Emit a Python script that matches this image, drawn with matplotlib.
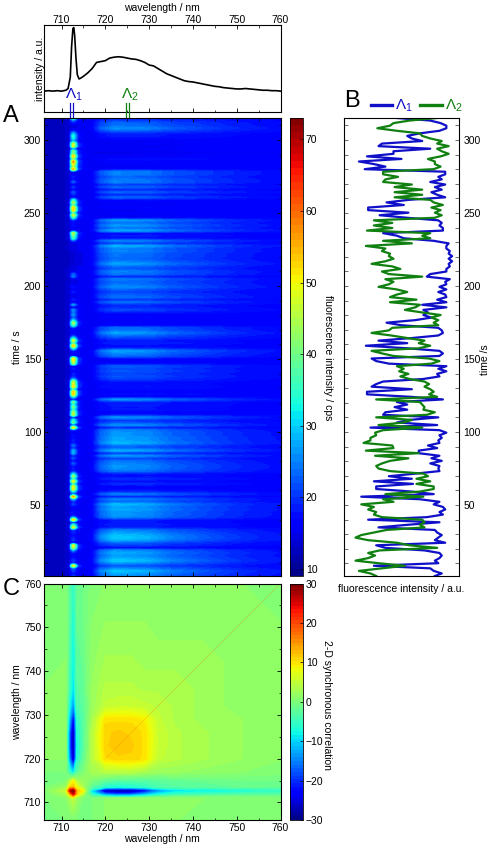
import numpy as np
import matplotlib
matplotlib.use("Agg")
import matplotlib.pyplot as plt
from matplotlib.ticker import MultipleLocator

plt.rcParams['font.family'] = ['Liberation Sans', 'DejaVu Sans']
plt.rcParams['font.size'] = 7.5
plt.rcParams['mathtext.fontset'] = 'custom'
plt.rcParams['mathtext.rm'] = 'Liberation Sans'
plt.rcParams['mathtext.it'] = 'Liberation Sans'
plt.rcParams['axes.linewidth'] = 0.8

# mean spectrum (top panel)
spec_wl = [706, 707, 708, 709, 710, 710.5, 711, 711.5, 712, 712.3, 712.6, 712.8, 713, 713.3, 713.6, 714, 714.4,
           715, 716, 717, 718, 719, 720, 721, 722, 723, 724, 725, 726, 727, 728, 729, 730, 731, 732, 733, 734,
           735, 736, 737, 738, 739, 740, 741, 742, 743, 744, 745, 746, 747, 748, 749, 750, 751, 752, 753, 754,
           755, 756, 757, 758, 759, 760]
spec_int = [24, 24.5, 24, 24.5, 24, 24.5, 25, 27, 40, 75, 96, 97, 88, 62, 43, 38, 39,
            41, 45, 50, 57, 58, 59, 62, 63, 63.5, 63, 62, 61, 60.5, 59, 57, 54, 53, 50, 47, 44,
            42, 40, 38, 36, 35, 34.5, 33.5, 32.5, 31.5, 30.5, 29.5, 29, 28, 27.5, 27, 26.5, 26.5, 27, 26.5, 26,
            25.5, 25, 25, 24.5, 24.5, 24]

# traces of panel B, read from the top (315 s) down to the bottom (1.4 s)
trace_1 = [54, 25, 16, 11, 11, 17, 34, 45, 41, 32, 67, 70, 25, 57, 57, 80, 50, 87, 74, 64, 82, 12, 12, 18, 15, 25,
           12, 21, 15, 24, 19, 12, 44, 63, 48, 79,
           79, 44, 69, 45, 18, 15, 17, 14, 14, 66, 54, 48, 22, 9, 11, 11, 8, 9, 6, 9, 6, 9, 8, 11, 11, 25, 28, 8,
           12, 11, 17, 11, 18, 12, 11, 19,
           11, 32, 11, 31, 27, 31, 24, 38, 63, 50, 18, 15, 14, 18, 41, 70, 45, 81, 45, 17, 14, 17, 76, 72, 61, 11,
           18, 11, 19, 17, 31, 66, 72, 76, 41, 80,
           80, 41, 14, 54, 45, 56, 45, 64, 66, 18, 43, 54, 19, 77, 17, 11, 17, 15, 18, 17, 27, 19, 35, 35, 17, 24,
           15, 25, 17, 18, 17, 38, 61, 41, 74, 40, 72,
           72, 41, 22, 85, 34, 17, 22, 14, 12, 17, 14, 28, 79, 17, 45, 70, 21, 19, 15, 18, 21, 12, 72, 64, 30, 17,
           15, 17, 21, 18, 74, 25, 22, 15, 21]
trace_2 = [19, 43, 57, 60, 71, 54, 34, 32, 25, 15, 19, 9, 19, 15, 9, 16, 27, 21, 21, 16, 22, 66, 66, 53, 64, 66,
           41, 56, 32, 56, 32, 56, 25, 22, 14, 24,
           16, 21, 15, 21, 74, 58, 74, 58, 80, 25, 32, 25, 66, 41, 81, 64, 67, 60, 61, 57, 64, 76, 58, 51, 67, 61,
           32, 64, 57, 61, 70, 54, 45, 54, 60, 37,
           60, 34, 38, 47, 32, 16, 24, 18, 22, 18, 58, 61, 76, 59, 45, 30, 35, 25, 35, 76, 67, 57, 26, 17, 24, 54,
           48, 52, 44, 51, 43, 30, 26, 30, 25, 22,
           26, 19, 72, 34, 32, 30, 31, 21, 28, 72, 41, 48, 70, 32, 66, 73, 72, 77, 77, 83, 58, 57, 81, 35, 73, 44,
           60, 67, 72, 70, 60, 31, 27, 37, 25, 37, 22,
           22, 34, 64, 31, 66, 57, 85, 74, 79, 72, 74, 67, 32, 30, 34, 30, 63, 74, 85, 90, 79, 54, 43, 19, 69,
           79, 73, 79, 90, 70, 47, 67, 87, 77, 72]

# wavelength shapes used for the time-wavelength map in panel A
map_wl = [706, 711, 711.8, 712.2, 712.7, 713.2, 713.8, 715, 717, 719, 722, 726, 730, 735, 740, 745, 750, 755, 760]
map_base = [13, 13, 13, 14, 14, 14, 15, 15, 15, 15, 15, 15, 15.5, 15.5, 16, 16, 16, 16, 16]
line_shape = [0, 0, 0.06, 0.6, 1, 0.65, 0.15, 0.04, 0, 0, 0, 0, 0, 0, 0, 0, 0, 0, 0]
broad_shape = [0, 0, 0, 0, 0, 0, 0, 0, 0.12, 0.7, 1, 0.95, 0.85, 0.65, 0.5, 0.38, 0.28, 0.2, 0.15]

# 2-D synchronous correlation, symmetric table on corr_wl nodes
corr_wl = [706, 711, 712, 712.7, 713.5, 715, 717, 720, 723, 726, 729, 732, 736, 742, 750, 760]
corr = [
    [0, 0, 0, 0, 0, 0, 0, 1, 1, 1, 1, 1, 1, .5, .5, 0],
    [0, 1, 3, 5, 2, 0, 0, 1, 1, 1, 1, 1, 1, 1, .5, 0],
    [0, 3, 15, 26, 12, 4, -7, -17, -20, -19, -14, -9, -6, -5, -4, -3],
    [0, 5, 26, 32, 12, 8, -10, -29, -32, -30, -24, -15, -10, -9, -8, -6],
    [0, 2, 12, 12, 8, 3, -3, -7, -8, -7, -6, -4, -3, -3, -2, -2],
    [0, 0, 4, 8, 3, 2, 0, -2, -3, -3, -3, -2.5, -2, -1.5, -1, -1],
    [0, 0, -7, -10, -3, 0, 3, 4, 4, 4, 3, 2, 2, 1.5, 1, .5],
    [1, 1, -17, -29, -7, -2, 4, 10, 11, 11, 10, 5, 4, 3, 2, 1],
    [1, 1, -20, -32, -8, -3, 4, 11, 12, 11.5, 10, 5.5, 4, 3, 2, 1],
    [1, 1, -19, -30, -7, -3, 4, 11, 11.5, 11, 10, 5.5, 4, 3, 2, 1],
    [1, 1, -14, -24, -6, -3, 3, 10, 10, 10, 9, 5, 3.5, 2.5, 2, 1],
    [1, 1, -9, -15, -4, -2.5, 2, 5, 5.5, 5.5, 5, 4.5, 3.5, 2.5, 1.5, 1],
    [1, 1, -6, -10, -3, -2, 2, 4, 4, 4, 3.5, 3.5, 3.5, 2.5, 1.5, 1],
    [.5, 1, -5, -9, -3, -1.5, 1.5, 3, 3, 3, 2.5, 2.5, 2.5, 2.5, 1.5, 1],
    [.5, .5, -4, -8, -2, -1, 1, 2, 2, 2, 2, 1.5, 1.5, 1.5, 1.5, 1],
    [0, 0, -3, -6, -2, -1, .5, 1, 1, 1, 1, 1, 1, 1, 1, .5],
]

n = min(len(trace_1), len(trace_2))
trace_1 = np.array(trace_1[:n], dtype=float)
trace_2 = np.array(trace_2[:n], dtype=float)
time_s = np.linspace(315, 1.4, n)

blue = '#1010c8'
green = '#108010'

W, H = 490, 844
fig = plt.figure(figsize=(W / 100, H / 100), dpi=100)


def px_axes(x0, y0, x1, y1):
    # axes from pixel box, y counted from the top of the picture
    return fig.add_axes([x0 / W, 1 - y1 / H, (x1 - x0) / W, (y1 - y0) / H])


def style_ticks(ax):
    ax.tick_params(which='major', direction='in', length=3, width=0.6, top=True, right=True, pad=2)
    ax.tick_params(which='minor', direction='in', length=1.8, width=0.5, top=True, right=True)


# top panel
ax_top = px_axes(44, 25, 280.5, 112)
ax_top.plot(spec_wl, spec_int, color='black', lw=1.2)
ax_top.set_xlim(706, 760)
ax_top.set_ylim(0, 100)
ax_top.set_yticks([])
ax_top.xaxis.set_major_locator(MultipleLocator(10))
ax_top.xaxis.set_minor_locator(MultipleLocator(5))
ax_top.tick_params(which='major', axis='x', direction='in', length=3, width=0.6, top=True, labeltop=True,
                   labelbottom=False, pad=0)
ax_top.tick_params(which='minor', axis='x', direction='in', length=1.8, width=0.5, top=True)
ax_top.xaxis.set_label_position('top')
ax_top.set_xlabel("wavelength / nm", labelpad=3)
ax_top.set_ylabel("intensity / a.u.", labelpad=-1)

# double markers for the two spectral windows
trans = ax_top.get_xaxis_transform()
for wl, col in [(712.0, blue), (712.7, blue), (724.8, green), (725.5, green)]:
    ax_top.plot([wl, wl], [0.10, -0.07], color=col, lw=0.9, transform=trans, clip_on=False, zorder=5)
ax_top.text(712.9, 0.105, r"$\Lambda_1$", color=blue, fontsize=11, transform=trans, ha='center', va='bottom')
ax_top.text(725.7, 0.105, r"$\Lambda_2$", color=green, fontsize=11, transform=trans, ha='center', va='bottom')

# panel A, map built from the two traces and the wavelength shapes
line_amp = np.clip(trace_1 - 10, 0, None) / 70 * 40
broad_amp = np.clip(trace_2 - 15, 0, None) / 70 * 14
Z = np.array(map_base) + np.outer(line_amp, line_shape) + np.outer(broad_amp, broad_shape)
ax_a = px_axes(44, 118, 280.5, 576)
levels_a = np.linspace(9, 73, 65)
im_a = ax_a.contourf(map_wl, time_s, Z, levels=levels_a, cmap='jet')
ax_a.set_xlim(706, 760)
ax_a.set_ylim(1.4, 315)
ax_a.xaxis.set_major_locator(MultipleLocator(10))
ax_a.xaxis.set_minor_locator(MultipleLocator(5))
ax_a.yaxis.set_major_locator(MultipleLocator(50))
ax_a.yaxis.set_minor_locator(MultipleLocator(10))
style_ticks(ax_a)
ax_a.tick_params(labelbottom=False)
ax_a.set_ylabel("time / s", labelpad=1)

cax_a = px_axes(290, 118, 303, 576)
cb_a = fig.colorbar(im_a, cax=cax_a, ticks=range(10, 71, 10))
cb_a.ax.tick_params(length=2, width=0.5, direction='in', pad=2)
cb_a.outline.set_linewidth(0.6)
fig.text(328 / W, 1 - 358 / H, "fluorescence intensity / cps", rotation=270, ha='center', va='center')

# panel B
ax_b = px_axes(344, 118, 459, 576)
ax_b.plot(trace_1, time_s, color=blue, lw=1.6, label=r"$\Lambda_1$")
ax_b.plot(trace_2, time_s, color=green, lw=1.6, label=r"$\Lambda_2$")
ax_b.set_xlim(100, 0)
ax_b.set_ylim(1.4, 315)
ax_b.set_xticks([])
ax_b.yaxis.set_major_locator(MultipleLocator(50))
ax_b.yaxis.set_minor_locator(MultipleLocator(10))
ax_b.tick_params(which='both', axis='y', direction='in', left=True, right=True, labelleft=False, labelright=True,
                 length=3, width=0.6, color='#555555', pad=3)
ax_b.set_xlabel("fluorescence intensity / a.u.", labelpad=6)
leg = ax_b.legend(loc='lower right', bbox_to_anchor=(1.03, 1.008), ncol=2, frameon=False, fontsize=11,
                  handlelength=1.4, handletextpad=0.2, columnspacing=0.5, borderpad=0, borderaxespad=0)
for line in leg.get_lines():
    line.set_linewidth(2.4)
for txt, col in zip(leg.get_texts(), [blue, green]):
    txt.set_color(col)
fig.text(485 / W, 1 - 360 / H, "time /s", rotation=90, ha='center', va='center')

# panel C
ax_c = px_axes(44, 583.5, 280.5, 820)
corr_arr = np.clip(np.array(corr), -29.99, 29.99)
im_c = ax_c.contourf(corr_wl, corr_wl, corr_arr, levels=np.linspace(-30, 30, 65), cmap='jet')
ax_c.plot(corr_wl[7:], corr_wl[7:], color='#e86a00', lw=0.5, alpha=0.3)
ax_c.set_xlim(706, 760)
ax_c.set_ylim(706, 760)
for axis in (ax_c.xaxis, ax_c.yaxis):
    axis.set_major_locator(MultipleLocator(10))
    axis.set_minor_locator(MultipleLocator(5))
style_ticks(ax_c)
ax_c.set_xlabel("wavelength / nm", labelpad=1)
ax_c.set_ylabel("wavelength / nm", labelpad=1)

cax_c = px_axes(290, 583.5, 303, 820)
cb_c = fig.colorbar(im_c, cax=cax_c, ticks=range(-30, 31, 10))
cb_c.ax.tick_params(length=2, width=0.5, direction='in', pad=2)
cb_c.outline.set_linewidth(0.6)
fig.text(327 / W, 1 - 705 / H, "2-D synchronous correlation", rotation=270, ha='center', va='center')

# panel letters
fig.text(3 / W, 1 - 116 / H, "A", fontsize=17, ha='left', va='center')
fig.text(344 / W, 1 - 101 / H, "B", fontsize=17, ha='left', va='center')
fig.text(3 / W, 1 - 589 / H, "C", fontsize=17, ha='left', va='center')

fig.savefig("out.png", dpi=100)
